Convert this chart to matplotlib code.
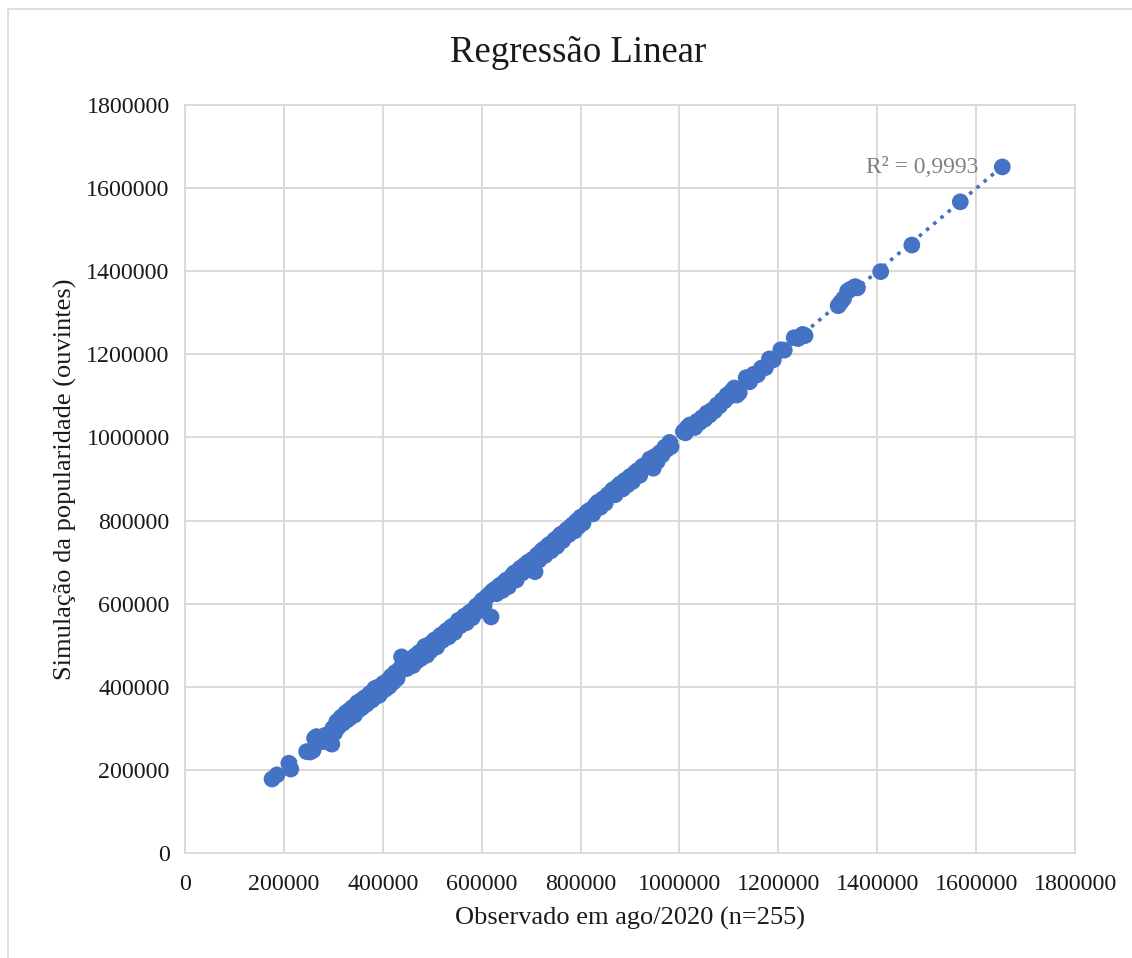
import numpy as np
import matplotlib
matplotlib.use('Agg')
import matplotlib.pyplot as plt
from matplotlib.patches import Rectangle

# values in thousands of listeners
observed_k = [
    176, 186, 210, 214, 246, 253, 259, 262, 266, 271, 278, 283, 289, 295, 297, 299, 303,
    307, 310, 313, 316, 319, 322, 325, 328, 331, 334, 337, 340, 343, 346, 349, 352, 355, 358, 361, 364,
    367, 370, 374, 378, 381, 384, 387, 390, 393, 397, 401, 405, 409, 413, 417, 421, 425, 429, 433, 437,
    438, 441, 445, 449,
    453, 457, 461, 465, 469, 473, 477, 481, 485, 489, 493, 497, 501, 505, 509, 513, 517, 521, 525, 529,
    533, 537, 541, 545, 549, 553, 557, 561, 565, 569, 573, 577, 581, 585, 589, 593, 597, 601, 605, 609,
    613, 617, 619, 622,
    626, 630, 634, 638, 642, 646, 650, 654, 658, 662, 666, 670, 674, 678, 682, 686, 690, 694, 698, 702,
    706, 708, 712, 716, 720, 724, 728, 732, 736, 740, 744, 748, 752, 756, 760, 764, 768, 772, 776, 780,
    784, 788, 792, 796,
    800, 805, 810, 815, 820, 825, 830, 835, 840, 845, 850, 855, 860, 865, 870, 875, 880, 885, 890, 895,
    900, 905, 910, 915, 920, 925, 930, 935, 940, 945, 947, 950, 955, 960, 965, 970, 975, 980, 983,
    1008, 1012, 1016, 1021, 1026, 1031, 1036, 1041, 1046, 1051, 1056, 1061, 1066, 1071, 1076, 1081,
    1086, 1091, 1096, 1101, 1106, 1111, 1116, 1121,
    1135, 1142, 1150, 1158, 1166, 1174, 1182, 1190, 1205, 1212, 1232, 1240, 1249, 1254,
    1321, 1326, 1332, 1340, 1345, 1355, 1360, 1407, 1470, 1568, 1653,
]
simulated_k = [
    178, 188, 216, 202, 244, 243, 247, 276, 280, 274, 268, 283, 278, 264, 262, 300, 290,
    316, 303, 322, 327, 312, 331, 337, 320, 342, 326, 348, 351, 332, 356, 362, 345, 366, 350, 371, 374,
    358, 378, 384, 368, 390, 396, 377, 399, 380, 388, 408, 394, 414, 401, 425, 411, 434, 420, 441, 446,
    472, 442, 458, 444,
    462, 466, 451, 474, 462, 482, 468, 489, 497, 476, 501, 487, 508, 513, 496, 516, 524, 512, 530, 535,
    520, 542, 546, 531, 552, 560, 547, 564, 570, 554, 576, 580, 566, 587, 594, 582, 601, 608, 596, 615,
    619, 624, 568, 630,
    634, 624, 641, 645, 632, 652, 657, 641, 662, 668, 674, 657, 679, 685, 674, 692, 680, 700, 688, 706,
    693, 677, 717, 705, 725, 730, 716, 737, 742, 727, 748, 754, 738, 761, 767, 752, 772, 778, 766, 785,
    790, 775, 799, 786,
    808, 794, 816, 822, 826, 816, 837, 844, 832, 852, 842, 862, 866, 874, 862, 882, 888, 876, 897, 886,
    906, 894, 915, 920, 909, 930, 933, 931, 948, 936, 926, 954, 942, 963, 958, 976, 972, 988, 978,
    1014, 1011, 1024, 1030, 1026, 1024, 1039, 1036, 1048, 1044, 1059, 1054, 1066, 1064, 1078, 1076,
    1089, 1088, 1102, 1099, 1112, 1119, 1102, 1108,
    1144, 1134, 1152, 1151, 1167, 1168, 1189, 1187, 1211, 1210, 1240, 1238, 1248, 1245,
    1317, 1325, 1334, 1352, 1356, 1363, 1360, 1399, 1463, 1567, 1651,
]
ticks = [0, 200000, 400000, 600000, 800000, 1000000, 1200000, 1400000, 1600000, 1800000]

x = np.array(observed_k) * 1000
y = np.array(simulated_k) * 1000

blue = '#4472C4'
text_color = '#1a1a1a'
plt.rcParams['font.family'] = ['Liberation Serif', 'DejaVu Serif']

fig = plt.figure(figsize=(11.32, 9.58), dpi=100)
ax = fig.add_axes([185 / 1132, 1 - 853 / 958, 890 / 1132, 748 / 958])

# chart border
fig.patches.append(Rectangle((8 / 1132, -0.1), 1.2, 1 - 9 / 958 + 0.1, transform=fig.transFigure,
                             fill=False, edgecolor='#D9D9D9', linewidth=1.2))

ax.scatter(x, y, s=145, color=blue, edgecolors='none', zorder=3)

# linear trendline (Excel style)
slope, intercept = np.polyfit(x, y, 1)
xs = np.array([x.min(), x.max()])
ax.plot(xs, slope * xs + intercept, color=blue, linestyle=(0, (1, 1.6)), linewidth=2.6, zorder=4)
ax.text(0.891, 0.917, 'R² = 0,9993', transform=ax.transAxes, ha='right', va='center',
        fontsize=17, color='#808080')

ax.set_xlim(0, 1800000)
ax.set_ylim(0, 1800000)
ax.set_xticks(ticks)
ax.set_yticks(ticks)
ax.set_xticklabels([str(t) for t in ticks])
ax.set_yticklabels([str(t) for t in ticks])
ax.tick_params(axis='x', length=0, labelsize=17.3, labelcolor=text_color, pad=15)
ax.tick_params(axis='y', length=0, labelsize=17.3, labelcolor=text_color, pad=11)
ax.grid(True, color='#D9D9D9', linewidth=1.4)
ax.set_axisbelow(True)
for s in ax.spines.values():
    s.set_color('#D9D9D9')
    s.set_linewidth(1.4)

fig.text(578 / 1132, 1 - 53 / 958, 'Regressão Linear', fontsize=26.5, color=text_color,
         ha='center', va='center')
ax.set_xlabel('Observado em ago/2020 (n=255)', fontsize=19, color=text_color, labelpad=9)
ax.set_ylabel('Simulação da popularidade (ouvintes)', fontsize=19, color=text_color, labelpad=7)

fig.savefig('out.png', dpi=100)
